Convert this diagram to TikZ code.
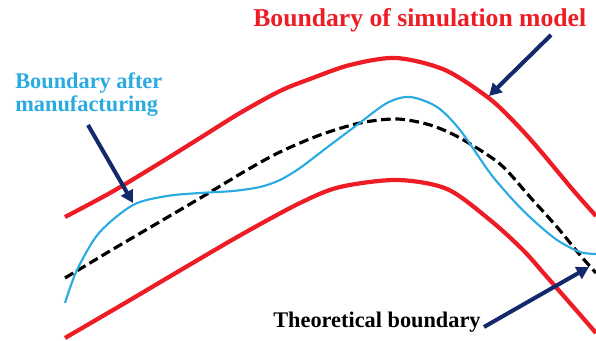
\documentclass[tikz,border=0pt]{standalone}
\usepackage{fontspec}
\setmainfont{Liberation Serif}
\usepackage{xcolor}
\usepackage{tikz}
\usetikzlibrary{arrows.meta, positioning, calc}
\definecolor{simred}{HTML}{EE1C25}
\definecolor{mfgblue}{HTML}{29ABE2}
\definecolor{arrownavy}{HTML}{13296B}

\begin{document}
\begin{tikzpicture}[font=\fontsize{12.7}{13.6}\selectfont\bfseries, >={Triangle[length=7pt,width=7.5pt]},
    simline/.style={line width=2.4pt, simred},
    mfgline/.style={line width=1.2pt, mfgblue},
    theoline/.style={line width=1.8pt, black, dash pattern=on 5.5pt off 2.6pt},
    pointer/.style={->, line width=2.3pt, arrownavy}]
  \useasboundingbox (0,0) rectangle (11.92,6.82);
  % boundaries
  \draw[simline] plot[smooth] coordinates {(1.30,2.48) (2.20,2.96) (3.10,3.50) (4.00,4.06) (4.80,4.56) (5.60,5.00) (6.20,5.24) (7.00,5.52) (7.92,5.66) (8.90,5.42) (9.80,4.84) (10.40,4.26) (10.86,3.74) (11.46,3.02) (11.92,2.50)};
  \draw[simline] plot[smooth] coordinates {(1.30,0.06) (2.50,0.76) (3.65,1.44) (4.85,2.14) (6.00,2.76) (6.80,3.08) (7.94,3.22) (8.94,3.04) (9.80,2.42) (10.46,1.82) (10.94,1.28) (11.45,0.70) (11.92,0.16)};
  \draw[theoline] plot[smooth] coordinates {(1.30,1.26) (2.20,1.80) (3.12,2.34) (4.04,2.88) (4.94,3.42) (5.60,3.78) (6.40,4.12) (7.20,4.36) (7.94,4.44) (8.60,4.32) (9.20,4.06) (10.00,3.54) (10.60,2.88) (11.14,2.28) (11.60,1.72) (11.92,1.36)};
  \draw[mfgline] plot[smooth] coordinates {(1.30,0.76) (1.54,1.42) (1.98,2.16) (2.66,2.72) (3.34,2.90) (4.00,2.96) (4.66,3.00) (5.20,3.08) (5.60,3.22) (6.00,3.46) (6.50,3.84) (7.14,4.32) (7.74,4.76) (8.20,4.88) (8.74,4.68) (9.20,4.22) (9.80,3.36) (10.26,2.82) (10.66,2.42) (11.14,2.02) (11.60,1.78) (11.92,1.74)};
  % labels
  \node[simred, anchor=base west, inner sep=0, font=\fontsize{14.6}{16}\selectfont\bfseries] (simlbl) at (5.06,6.28) {Boundary of simulation model};
  \node[mfgblue, anchor=north west, align=left, inner sep=0] (mfglbl) at (0.30,5.38) {Boundary after\\manufacturing};
  \node[anchor=base west, inner sep=0] (theolbl) at (5.46,0.26) {Theoretical boundary};
  % pointers
  \coordinate (simtail) at (11.02,6.12);
  \coordinate (simtip) at (9.78,4.90);
  \coordinate (mfgtail) at (1.76,4.32);
  \coordinate (mfgtip) at (2.66,2.76);
  \coordinate (theotip) at (11.78,1.48);
  \draw[pointer] (simtail) -- (simtip);
  \draw[pointer] (mfgtail) -- (mfgtip);
  \draw[pointer] ($(theolbl.base east)+(0.06,0.02)$) -- (theotip);
\end{tikzpicture}
\end{document}
